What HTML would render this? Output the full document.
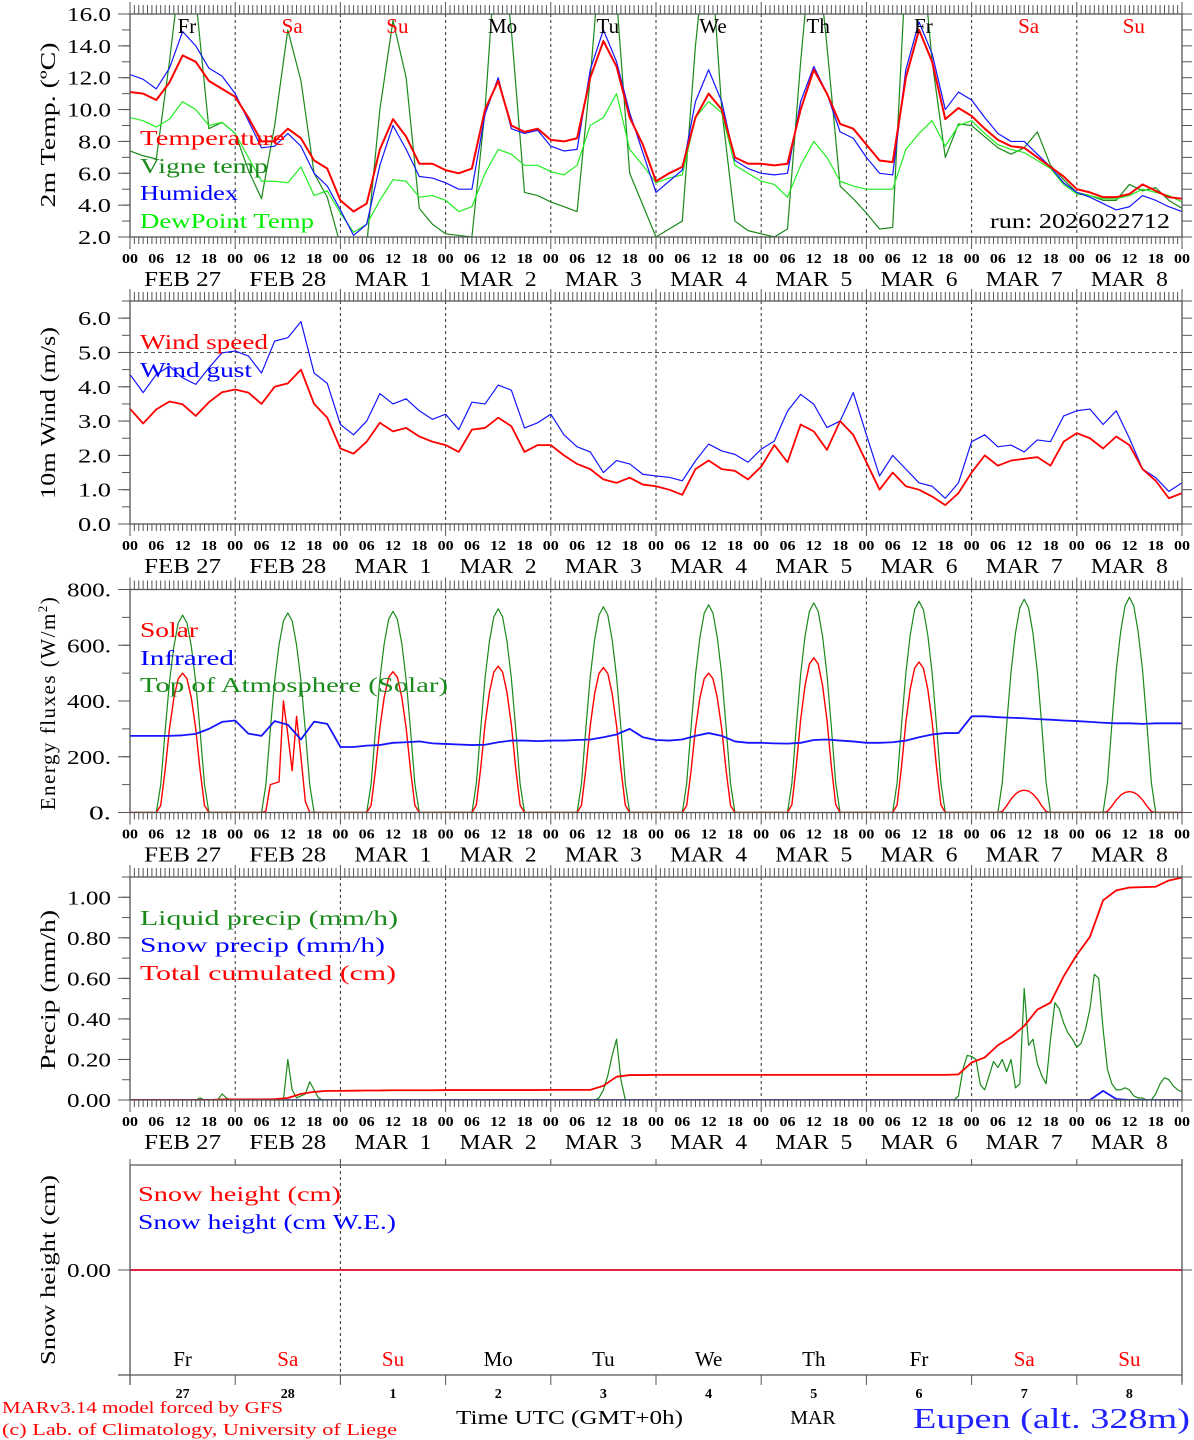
<!DOCTYPE html>
<html><head><meta charset="utf-8"><title>MAR forecast Eupen</title>
<style>
html,body{margin:0;padding:0;background:#fff;}
svg{display:block;font-family:"Liberation Serif",serif;}
.pre{white-space:pre;}
</style></head>
<body>
<svg id="chart" width="1194" height="1440" viewBox="0 0 1194 1440" xmlns="http://www.w3.org/2000/svg">
<rect x="0" y="0" width="1194" height="1440" fill="#fff"/>
<defs>
<clipPath id="c1"><rect x="130" y="14" width="1052" height="223"/></clipPath>
<clipPath id="c2"><rect x="130" y="301" width="1052" height="223"/></clipPath>
<clipPath id="c3"><rect x="130" y="589.5" width="1052" height="223"/></clipPath>
<clipPath id="c4"><rect x="130" y="877" width="1052" height="223"/></clipPath>
</defs>
<g id="grid"></g>
<g id="series"></g>
<g id="axes"></g>

<text x="140" y="145" font-size="21" fill="#ff0000" textLength="145" lengthAdjust="spacingAndGlyphs">Temperature</text>
<text x="140" y="173" font-size="21" fill="#1a8a1a" textLength="128" lengthAdjust="spacingAndGlyphs">Vigne temp</text>
<text x="140" y="200" font-size="21" fill="#0000ff" textLength="98" lengthAdjust="spacingAndGlyphs">Humidex</text>
<text x="140" y="228" font-size="21" fill="#00ee00" textLength="174" lengthAdjust="spacingAndGlyphs">DewPoint Temp</text>
<text x="1170" y="228" font-size="21" fill="#000" text-anchor="end" textLength="180" lengthAdjust="spacingAndGlyphs">run: 2026022712</text>
<text transform="translate(55,125) rotate(-90)" font-size="21" text-anchor="middle" textLength="165" lengthAdjust="spacingAndGlyphs">2m Temp. (ºC)</text>

<text x="140" y="349" font-size="21" fill="#ff0000" textLength="128" lengthAdjust="spacingAndGlyphs">Wind speed</text>
<text x="140" y="377" font-size="21" fill="#0000ff" textLength="112" lengthAdjust="spacingAndGlyphs">Wind gust</text>
<text transform="translate(55,413) rotate(-90)" font-size="21" text-anchor="middle" textLength="172" lengthAdjust="spacingAndGlyphs">10m Wind (m/s)</text>

<text x="140" y="637" font-size="21" fill="#ff0000" textLength="58" lengthAdjust="spacingAndGlyphs">Solar</text>
<text x="140" y="665" font-size="21" fill="#0000ff" textLength="94" lengthAdjust="spacingAndGlyphs">Infrared</text>
<text x="140" y="692" font-size="21" fill="#1a8a1a" textLength="308" lengthAdjust="spacingAndGlyphs">Top of Atmosphere (Solar)</text>
<text transform="translate(55,703) rotate(-90)" font-size="21" text-anchor="middle" letter-spacing="1.5">Energy fluxes (W/m<tspan font-size="13" dy="-8">2</tspan><tspan dy="8">)</tspan></text>

<text x="140" y="925" font-size="21" fill="#1a8a1a" textLength="258" lengthAdjust="spacingAndGlyphs">Liquid precip (mm/h)</text>
<text x="140" y="952" font-size="21" fill="#0000ff" textLength="245" lengthAdjust="spacingAndGlyphs">Snow precip (mm/h)</text>
<text x="140" y="980" font-size="21" fill="#ff0000" textLength="256" lengthAdjust="spacingAndGlyphs">Total cumulated (cm)</text>
<text transform="translate(55,990) rotate(-90)" font-size="21" text-anchor="middle" textLength="160" lengthAdjust="spacingAndGlyphs">Precip (mm/h)</text>

<text x="138" y="1201" font-size="21" fill="#ff0000" textLength="203" lengthAdjust="spacingAndGlyphs">Snow height (cm)</text>
<text x="138" y="1229" font-size="21" fill="#0000ff" textLength="258" lengthAdjust="spacingAndGlyphs">Snow height (cm W.E.)</text>
<text transform="translate(55,1270) rotate(-90)" font-size="21" text-anchor="middle" textLength="190" lengthAdjust="spacingAndGlyphs">Snow height (cm)</text>

<text x="456" y="1424" font-size="20" textLength="227" lengthAdjust="spacingAndGlyphs">Time UTC (GMT+0h)</text>
<text x="813" y="1424" font-size="20" text-anchor="middle">MAR</text>
<text x="1190" y="1428" font-size="29" fill="#2222ff" text-anchor="end" textLength="277" lengthAdjust="spacingAndGlyphs">Eupen (alt. 328m)</text>
<text x="2" y="1413" font-size="17" fill="#ff0000" textLength="281" lengthAdjust="spacingAndGlyphs">MARv3.14 model forced by GFS</text>
<text x="2" y="1435" font-size="17" fill="#ff0000" textLength="395" lengthAdjust="spacingAndGlyphs">(c) Lab. of Climatology, University of Liege</text>
</svg>

<script>
const dayNames = ["Fr","Sa","Su","Mo","Tu","We","Th","Fr","Sa","Su"];
const dayNums = ["27","28","1","2","3","4","5","6","7","8"];
const dateLabels = ["FEB 27","FEB 28","MAR  1","MAR  2","MAR  3","MAR  4","MAR  5","MAR  6","MAR  7","MAR  8"];
const hourLabels = ["00","06","12","18"];

const temperature = [11.1,11.0,10.6,11.7,13.4,13.0,11.8,11.3,
10.8,9.5,8.0,8.0,8.8,8.2,6.8,6.3,
4.3,3.6,4.1,7.5,9.4,8.3,6.6,6.6,
6.2,6.0,6.3,10.0,11.8,9.0,8.6,8.8,
8.1,8.0,8.2,12.0,14.3,12.7,9.5,7.8,
5.5,6.0,6.4,9.5,11.0,10.0,7.0,6.6,
6.6,6.5,6.6,10.0,12.5,11.0,9.1,8.8,
7.8,6.8,6.7,12.0,15.0,13.0,9.4,10.1,
9.6,8.8,8.1,7.7,7.6,7.0,6.4,5.8,
5.0,4.8,4.5,4.5,4.7,5.3,4.9,4.5,4.4];
const humidex = [12.2,11.9,11.3,12.6,14.9,14.0,12.6,12.1,
11.0,9.3,7.6,7.7,8.5,7.7,6.0,5.2,
3.7,2.1,2.8,6.5,9.0,7.5,5.8,5.7,
5.4,5.0,5.0,9.7,12.0,8.8,8.5,8.7,
7.7,7.4,7.5,12.5,15.0,13.0,9.8,7.3,
4.8,5.5,6.2,10.5,12.5,10.5,6.8,6.3,
6.0,5.9,6.0,10.5,12.7,11.0,8.6,8.2,
7.0,6.0,5.9,12.5,15.5,13.5,10.0,11.1,
10.6,9.5,8.5,8.0,8.0,7.2,6.4,5.4,
4.8,4.5,4.1,3.7,3.9,4.6,4.3,3.9,3.6];
const dewpoint = [9.5,9.3,8.9,9.4,10.5,10.0,9.0,9.2,
8.5,7.0,5.5,5.5,5.4,6.4,4.6,4.9,
3.5,2.3,2.8,4.3,5.6,5.5,4.5,4.6,
4.3,3.6,3.9,6.0,7.5,7.2,6.5,6.5,
6.1,5.9,6.5,9.0,9.5,11.0,7.5,6.5,
5.4,5.7,5.9,9.5,10.5,9.8,6.5,6.0,
5.5,5.3,4.5,6.5,8.0,7.0,5.5,5.2,
5.0,5.0,5.0,7.5,8.5,9.3,7.7,9.0,
9.3,8.5,7.8,7.5,7.3,6.8,6.3,5.3,
4.7,4.6,4.4,4.4,4.6,5.0,4.8,4.6,4.2];
const vigne = [7.4,7.1,6.9,13,20,17,8.8,9.2,
8.5,6.2,4.4,9.0,15.0,11.8,6.0,4.5,
1.5,1.0,1.5,10,15.6,12,3.8,2.8,
2.2,2.1,2.0,10,22,15,4.8,4.6,
4.2,3.9,3.6,12,22,17,6.0,4.0,
2.0,2.5,3.0,14,22,10,3.0,2.4,
2.2,2.0,2.5,13,22,14,5.2,4.4,
3.5,2.5,2.6,19,22,13,7.0,9.1,
9.0,8.3,7.6,7.2,7.6,8.6,6.5,5.6,
4.8,4.6,4.3,4.3,5.3,4.9,5.1,4.3,3.8];

const windSpeed = [3.36,2.93,3.34,3.57,3.49,3.15,3.55,3.84,
3.92,3.83,3.5,4.0,4.1,4.5,3.5,3.1,
2.2,2.05,2.4,2.95,2.7,2.8,2.55,2.4,
2.3,2.1,2.75,2.8,3.1,2.85,2.1,2.3,
2.3,2.0,1.75,1.6,1.3,1.2,1.35,1.15,
1.1,1.0,0.85,1.6,1.85,1.6,1.55,1.3,
1.67,2.3,1.8,2.9,2.7,2.16,3.0,2.6,
1.8,1.0,1.5,1.1,1.0,0.8,0.55,0.9,
1.5,2.0,1.7,1.85,1.9,1.95,1.7,2.4,
2.65,2.5,2.2,2.55,2.3,1.6,1.26,0.75,0.9];
const windGust = [4.36,3.83,4.36,4.6,4.26,4.07,4.55,4.99,
5.04,4.9,4.4,5.33,5.43,5.9,4.4,4.1,
2.9,2.6,3.0,3.8,3.5,3.65,3.3,3.05,
3.2,2.75,3.55,3.5,4.05,3.9,2.8,2.95,
3.2,2.6,2.25,2.1,1.5,1.85,1.75,1.45,
1.4,1.36,1.26,1.84,2.33,2.13,2.03,1.8,
2.18,2.42,3.29,3.78,3.49,2.81,3.0,3.83,
2.6,1.4,2.0,1.6,1.2,1.1,0.75,1.2,
2.4,2.6,2.25,2.3,2.1,2.45,2.4,3.15,
3.3,3.35,2.9,3.3,2.5,1.6,1.35,0.95,1.2];

const solarDay = [
[0,25,150,300,410,480,500,480,410,300,150,25,0],
[0,5,100,105,110,400,280,150,345,200,40,0,0],
[0,25,152,303,414,485,505,485,414,303,152,25,0],
[0,26,158,315,431,504,525,504,431,315,158,26,0],
[0,26,156,312,426,499,520,499,426,312,156,26,0],
[0,25,150,300,410,480,500,480,410,300,150,25,0],
[0,28,167,333,455,533,555,533,455,333,167,28,0],
[0,27,162,324,443,518,540,518,443,324,162,27,0],
[0,4,24,48,66,77,80,77,66,48,24,4,0],
[0,4,23,45,62,72,75,72,62,45,23,4,0]];
const toaDay = [
[0,99,290,467,595,680,708,680,595,467,290,99,0],
[0,100,294,473,601,687,716,687,601,473,294,100,0],
[0,101,296,477,606,693,722,693,606,477,296,101,0],
[0,102,300,482,614,702,731,702,614,482,300,102,0],
[0,103,303,487,620,708,738,708,620,487,303,103,0],
[0,104,305,492,626,715,745,715,626,492,305,104,0],
[0,105,308,496,632,722,752,722,632,496,308,105,0],
[0,106,311,500,637,728,758,728,637,500,311,106,0],
[0,107,314,505,643,734,765,734,643,505,314,107,0],
[0,108,317,510,648,741,772,741,648,510,317,108,0]];
const infrared = [275,275,275,275,277,282,300,325,
330,283,275,328,315,262,326,318,
235,235,240,242,250,252,255,248,
246,244,242,243,252,258,258,256,
258,258,260,262,270,280,300,270,
260,258,262,275,285,275,255,250,
250,248,247,250,260,262,258,255,
250,250,252,258,270,280,285,285,
345,345,342,340,338,335,333,330,
328,325,322,320,320,318,320,320,320];

const liquidDay = [
[0,0,0,0,0,0,0,0,0,0,0,0,0,0,0,0,0.01,0,0,0,0,0.03,0.01,0],
[0,0,0,0,0,0,0,0,0,0,0,0,0.2,0.05,0.01,0.02,0.03,0.09,0.05,0.01,0,0,0,0],
[0,0,0,0,0,0,0,0,0,0,0,0,0,0,0,0,0,0,0,0,0,0,0,0],
[0,0,0,0,0,0,0,0,0,0,0,0,0,0,0,0,0,0,0,0,0,0,0,0],
[0,0,0,0,0,0,0,0,0,0,0,0.01,0.05,0.12,0.22,0.3,0.1,0,0,0,0,0,0,0],
[0,0,0,0,0,0,0,0,0,0,0,0,0,0,0,0,0,0,0,0,0,0,0,0],
[0,0,0,0,0,0,0,0,0,0,0,0,0,0,0,0,0,0,0,0,0,0,0,0],
[0,0,0,0,0,0,0,0,0,0,0,0,0,0,0,0,0,0,0,0,0,0.02,0.15,0.22],
[0.215,0.2,0.075,0.05,0.12,0.19,0.16,0.2,0.14,0.2,0.06,0.08,0.55,0.27,0.3,0.18,0.12,0.08,0.3,0.48,0.45,0.38,0.33,0.3],
[0.26,0.28,0.35,0.45,0.62,0.6,0.35,0.15,0.08,0.05,0.05,0.06,0.05,0.02,0.01,0.01,0,0,0.03,0.08,0.11,0.1,0.07,0.05]];
const liquidEnd = 0.04;
const cumulated = [0,0,0,0,0,0,0,0.003,
0.003,0.003,0.003,0.004,0.01,0.03,0.04,0.045,
0.045,0.046,0.047,0.047,0.048,0.048,0.048,0.048,
0.049,0.049,0.049,0.049,0.049,0.049,0.049,0.049,
0.05,0.05,0.05,0.05,0.07,0.115,0.123,0.123,
0.124,0.124,0.124,0.124,0.124,0.124,0.124,0.124,
0.124,0.124,0.124,0.124,0.124,0.124,0.124,0.124,
0.124,0.124,0.124,0.124,0.124,0.124,0.124,0.126,
0.185,0.21,0.27,0.31,0.365,0.446,0.48,0.61,
0.716,0.805,0.985,1.034,1.048,1.05,1.052,1.083,1.097];
const snowPrecip = [0,0,0,0,0,0,0,0,0,0,0,0,0,0,0,0,0,0,0,0,0,0,0,0,0,0,0,0,0,0,0,0,0,0,0,0,0,0,0,0,
0,0,0,0,0,0,0,0,0,0,0,0,0,0,0,0,0,0,0,0,0,0,0,0,0,0,0,0,0,0,0,0,0,0,0.045,0.005,0,0,0,0,0];
const snowHeight = [0,0,0,0,0,0,0,0,0,0,0];

const yTicks1 = ["2.0","4.0","6.0","8.0","10.0","12.0","14.0","16.0"];
const yTicks2 = ["0.0","1.0","2.0","3.0","4.0","5.0","6.0"];
const yTicks3 = ["0.","200.","400.","600.","800."];
const yTicks4 = ["0.00","0.20","0.40","0.60","0.80","1.00"];

const NS = "http://www.w3.org/2000/svg";
const X0 = 130, X1 = 1182;
const xH = h => X0 + h * (X1 - X0) / 240;
const panels = [
 {top:14, bot:237, min:2, max:16, minor:1, clip:"c1"},
 {top:301, bot:524, min:0, max:6.5, minor:0.5, clip:"c2"},
 {top:589.5, bot:812.5, min:0, max:800, minor:100, clip:"c3"},
 {top:877, bot:1100, min:0, max:1.1, minor:0.1, clip:"c4"},
 {top:1165, bot:1375, min:-1, max:1, minor:null, clip:null}
];
const yV = (p, v) => p.bot - (v - p.min) * (p.bot - p.top) / (p.max - p.min);
const grid = document.getElementById("grid");
const series = document.getElementById("series");
const axes = document.getElementById("axes");

function mk(parent, tag, attrs, name) {
  const el = document.createElementNS(NS, tag);
  for (const k in attrs) el.setAttribute(k, attrs[k]);
  
  
  parent.appendChild(el);
  return el;
}
function txt(parent, x, y, s, size, anchor, name, extra) {
  const el = mk(parent, "text", Object.assign({x:x, y:y, "font-size":size, "text-anchor":anchor, fill:"#000"}, extra || {}), name);
  el.textContent = s;
  return el;
}
function line(parent, x1, y1, x2, y2, stroke, w, name, dash) {
  const a = {x1:x1, y1:y1, x2:x2, y2:y2, stroke:stroke, "stroke-width":w};
  if (dash) a["stroke-dasharray"] = dash;
  return mk(parent, "line", a, name);
}
function path(p, hours, vals, color, width, name) {
  let d = "";
  for (let i = 0; i < vals.length; i++) {
    d += (i ? "L" : "M") + xH(hours[i]).toFixed(2) + "," + yV(p, vals[i]).toFixed(2);
  }
  const a = {d:d, fill:"none", stroke:color, "stroke-width":width, "stroke-linejoin":"round"};
  if (p.clip) a["clip-path"] = "url(#" + p.clip + ")";
  return mk(series, "path", a, name);
}
const h3 = temperature.map((_, i) => i * 3);

panels.forEach((p, pi) => {
  const pn = "panel" + (pi + 1);
  if (pi < 4) {
    mk(axes, "rect", {x:X0, y:p.top, width:X1 - X0, height:p.bot - p.top, fill:"none", stroke:"#555", "stroke-width":1.3}, pn + "-frame");
    for (let h = 0; h <= 240; h++) {
      const x = xH(h), day = h % 24 === 0;
      line(axes, x, p.top, x, p.top - (day ? 12 : 9), "#555", 1, pn + "-top-tick");
      line(axes, x, p.bot, x, p.bot + (day ? 12 : 7), "#555", 1, pn + "-bottom-tick");
    }
    for (let d = 1; d < 10; d++) {
      line(grid, xH(d * 24), p.top, xH(d * 24), p.bot, "#333", 1, pn + "-day-separator", "3,3");
    }
    for (let d = 0; d <= 10; d++) {
      for (let k = 0; k < 4; k++) {
        if (d === 10 && k > 0) break;
        txt(axes, xH(d * 24 + k * 6), p.bot + 26, hourLabels[k], 14, "middle", pn + "-hour-label", {textLength:16, lengthAdjust:"spacingAndGlyphs", "font-weight":"bold"});
      }
      if (d < 10) txt(axes, xH(d * 24 + 12), p.bot + 49, dateLabels[d], 21, "middle", pn + "-date-label", {textLength:77, lengthAdjust:"spacingAndGlyphs", class:"pre"});
    }
    for (let v = p.min; v <= p.max + 1e-9; v += p.minor) {
      const y = yV(p, v);
      line(axes, X0 - 8, y, X0, y, "#555", 1, pn + "-y-tick");
      line(axes, X1, y, X1 + 10, y, "#555", 1, pn + "-y-tick-right");
    }
  } else {
    line(axes, X0, p.top, X1, p.top, "#555", 1.3, "panel5-top-line");
    line(axes, X0 - 12, p.bot, X1, p.bot, "#555", 1.3, "panel5-bottom-line");
    line(axes, X0, p.top, X0, p.bot + 10, "#555", 1.3, "panel5-left-line");
    line(axes, X1, p.top - 6, X1, p.bot + 8, "#555", 1.3, "panel5-right-line");
    line(grid, xH(48), p.top - 6, xH(48), p.bot + 10, "#333", 1, "panel5-day-separator", "3,3");
    for (let d = 0; d <= 10; d++) {
      line(axes, xH(d * 24), p.bot, xH(d * 24), p.bot + 10, "#555", 1, "panel5-day-tick");
      line(axes, xH(d * 24), p.top, xH(d * 24), p.top - 6, "#555", 1, "panel5-top-day-tick");
    }
    line(axes, X0 - 12, 1270, X0, 1270, "#555", 1, "panel5-y-tick");
    line(axes, X1, 1270, X1 + 10, 1270, "#555", 1, "panel5-y-tick-right");
    txt(axes, 111, 1277, "0.00", 20, "end", "panel5-y-label", {textLength:44, lengthAdjust:"spacingAndGlyphs"});
    for (let d = 0; d < 10; d++) {
      const we = dayNames[d] === "Sa" || dayNames[d] === "Su";
      txt(axes, xH(d * 24 + 12), 1366, dayNames[d], 21, "middle", "panel5-day-name", {fill: we ? "#ff0000" : "#000"});
      txt(axes, xH(d * 24 + 12), 1398, dayNums[d], 14, "middle", "panel5-day-number", {"font-weight":"bold"});
    }
  }
});
for (let d = 0; d < 10; d++) {
  const we = dayNames[d] === "Sa" || dayNames[d] === "Su";
  txt(axes, xH(d * 24 + 13), 33, dayNames[d], 21, "middle", "panel1-day-name", {fill: we ? "#ff0000" : "#000"});
}
function yLabels(pi, labels) {
  const p = panels[pi];
  labels.forEach(s => {
    const v = parseFloat(s), y = yV(p, v);
    line(axes, X0 - 12, y, X0, y, "#555", 1, "panel" + (pi + 1) + "-y-major-tick");
    txt(axes, 111, y + 7, s, 20, "end", "panel" + (pi + 1) + "-y-label", {textLength: s.length * 11, lengthAdjust:"spacingAndGlyphs"});
  });
}
yLabels(0, yTicks1); yLabels(1, yTicks2); yLabels(2, yTicks3); yLabels(3, yTicks4);
line(grid, X0, yV(panels[1], 5), X1, yV(panels[1], 5), "#555", 1, "wind-5ms-reference", "4,3");

path(panels[0], h3, vigne, "#1a8a1a", 1.2, "series-vigne-temp");
path(panels[0], h3, dewpoint, "#22ee22", 1.2, "series-dewpoint");
path(panels[0], h3, humidex, "#1515ff", 1.2, "series-humidex");
path(panels[0], h3, temperature, "#ff0000", 2, "series-temperature");

path(panels[1], h3, windGust, "#1515ff", 1.2, "series-wind-gust");
path(panels[1], h3, windSpeed, "#ff0000", 1.8, "series-wind-speed");

function expandDay(arr) {
  const hrs = [], vals = [];
  for (let d = 0; d < 10; d++) {
    for (let h = 0; h < 24; h++) {
      hrs.push(d * 24 + h);
      vals.push(h >= 6 && h <= 18 ? arr[d][h - 6] : 0);
    }
  }
  hrs.push(240); vals.push(0);
  return [hrs, vals];
}
const toaS = expandDay(toaDay), solS = expandDay(solarDay);
path(panels[2], toaS[0], toaS[1], "#1a8a1a", 1.2, "series-toa-solar");
path(panels[2], solS[0], solS[1], "#ff0000", 1.4, "series-solar");
path(panels[2], h3, infrared, "#1515ff", 1.8, "series-infrared");

const liqH = [], liqV = [];
liquidDay.forEach((day, d) => day.forEach((v, h) => { liqH.push(d * 24 + h); liqV.push(v); }));
liqH.push(240); liqV.push(liquidEnd);
path(panels[3], liqH, liqV, "#1a8a1a", 1.2, "series-liquid-precip");
path(panels[3], h3, snowPrecip, "#1515ff", 1.8, "series-snow-precip");
path(panels[3], h3, cumulated, "#ff0000", 1.8, "series-total-cumulated");

const dH = snowHeight.map((_, i) => i * 24);
path(panels[4], dH, snowHeight, "#1515ff", 1.5, "series-snow-height-we");
path(panels[4], dH, snowHeight, "#ff0000", 1.5, "series-snow-height");
</script>
</body></html>
